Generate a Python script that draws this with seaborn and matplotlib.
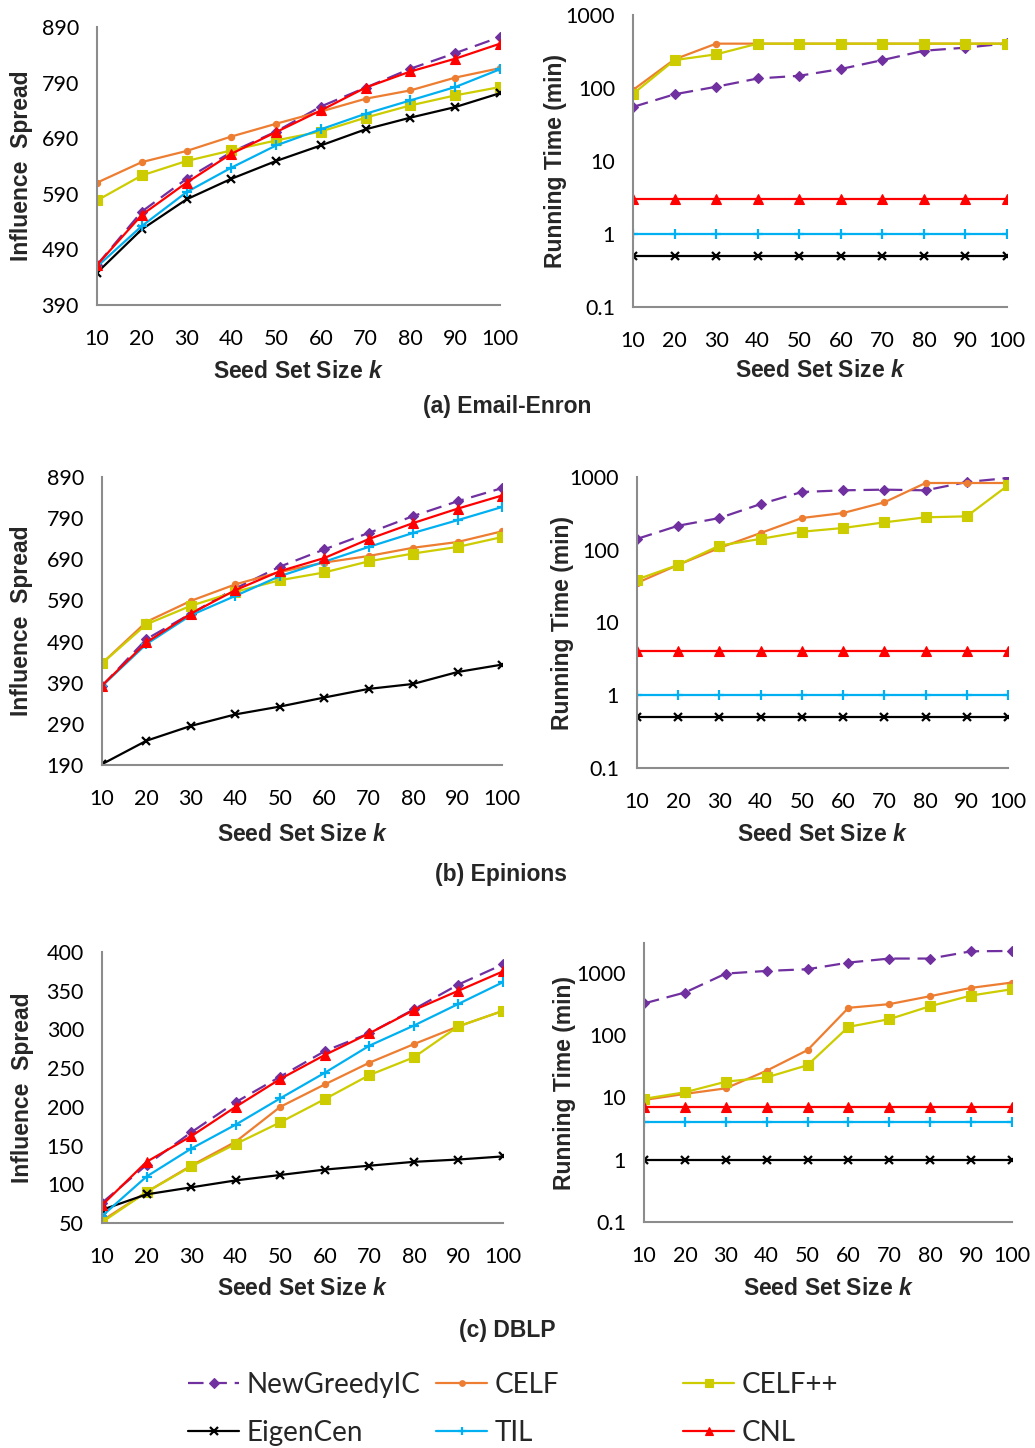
import matplotlib
matplotlib.use("Agg")
import matplotlib.pyplot as plt
from matplotlib.ticker import FixedLocator, FuncFormatter
from matplotlib.lines import Line2D
import seaborn as sns
import numpy as np
import pandas as pd

sns.set_style("white")
plt.rcParams['font.family'] = ['Lato', 'DejaVu Sans']
plt.rcParams['mathtext.fontset'] = 'custom'
plt.rcParams['mathtext.it'] = 'Liberation Sans:bold:italic'
plt.rcParams['mathtext.rm'] = 'Liberation Sans:bold'

# ---------------- data ----------------
k_values = [10, 20, 30, 40, 50, 60, 70, 80, 90, 100]
methods = ["NewGreedyIC", "CELF", "CELF++", "EigenCen", "TIL", "CNL"]

# (a) Email-Enron
enron_spread_newgreedy = [462, 558, 617, 665, 702, 747, 781, 815, 843, 872]
enron_spread_celf = [610, 647, 667, 693, 716, 738, 761, 776, 799, 816]
enron_spread_celfpp = [578, 623, 649, 668, 686, 702, 727, 749, 767, 782]
enron_spread_eigencen = [448, 526, 580, 617, 649, 677, 706, 727, 746, 771]
enron_spread_til = [459, 532, 593, 637, 677, 706, 734, 758, 782, 814]
enron_spread_cnl = [462, 552, 610, 662, 701, 740, 781, 810, 833, 860]

enron_time_newgreedy = [55, 82, 104, 135, 147, 182, 241, 324, 357, 408]
enron_time_celf = [94, 247, 405, 405, 405, 405, 405, 405, 405, 405]
enron_time_celfpp = [83, 241, 289, 405, 405, 405, 405, 405, 405, 405]
enron_time_eigencen = [0.5, 0.5, 0.5, 0.5, 0.5, 0.5, 0.5, 0.5, 0.5, 0.5]
enron_time_til = [1, 1, 1, 1, 1, 1, 1, 1, 1, 1]
enron_time_cnl = [3, 3, 3, 3, 3, 3, 3, 3, 3, 3]

# (b) Epinions
epin_spread_newgreedy = [382, 496, 558, 619, 672, 714, 754, 795, 831, 863]
epin_spread_celf = [437, 538, 589, 629, 659, 682, 698, 718, 732, 758]
epin_spread_celfpp = [437, 532, 577, 611, 639, 658, 685, 704, 720, 744]
epin_spread_eigencen = [192, 249, 285, 313, 332, 354, 375, 387, 416, 434]
epin_spread_til = [382, 484, 554, 601, 649, 684, 720, 754, 785, 817]
epin_spread_cnl = [383, 488, 558, 615, 661, 693, 739, 778, 813, 845]

epin_time_newgreedy = [141, 214, 273, 425, 622, 656, 670, 656, 853, 969]
epin_time_celf = [35, 62, 106, 170, 273, 320, 449, 827, 827, 827]
epin_time_celfpp = [39, 62, 114, 141, 177, 199, 238, 279, 288, 768]
epin_time_eigencen = [0.5, 0.5, 0.5, 0.5, 0.5, 0.5, 0.5, 0.5, 0.5, 0.5]
epin_time_til = [1, 1, 1, 1, 1, 1, 1, 1, 1, 1]
epin_time_cnl = [4, 4, 4, 4, 4, 4, 4, 4, 4, 4]

# (c) DBLP
dblp_spread_newgreedy = [76, 125, 167, 206, 239, 272, 295, 326, 358, 384]
dblp_spread_celf = [53, 90, 124, 155, 200, 229, 257, 281, 304, 324]
dblp_spread_celfpp = [51, 90, 123, 152, 180, 210, 241, 264, 304, 324]
dblp_spread_eigencen = [67, 87, 96, 105, 112, 119, 124, 129, 132, 136]
dblp_spread_til = [59, 110, 146, 177, 211, 244, 279, 305, 333, 361]
dblp_spread_cnl = [73, 129, 162, 200, 236, 267, 295, 325, 350, 375]

dblp_time_newgreedy = [323, 484, 975, 1076, 1145, 1464, 1699, 1699, 2223, 2250]
dblp_time_celf = [9.1, 11.4, 14, 26.9, 57.6, 275, 315, 423, 575, 700]
dblp_time_celfpp = [9.5, 12.1, 17.9, 21, 33, 136, 181, 292, 433, 547]
dblp_time_eigencen = [1, 1, 1, 1, 1, 1, 1, 1, 1, 1]
dblp_time_til = [4.1, 4.1, 4.1, 4.1, 4.1, 4.1, 4.1, 4.1, 4.1, 4.1]
dblp_time_cnl = [7, 7, 7, 7, 7, 7, 7, 7, 7, 7]

spread_ticks_ab = [390, 490, 590, 690, 790, 890]
spread_ticks_b = [190, 290, 390, 490, 590, 690, 790, 890]
spread_ticks_c = [50, 100, 150, 200, 250, 300, 350, 400]
time_ticks = [0.1, 1, 10, 100, 1000]

captions = ["(a) Email-Enron", "(b) Epinions", "(c) DBLP"]

# ---------------- styles ----------------
styles = {
    "NewGreedyIC": dict(color="#7030A0", marker="D", ms=5.5, dashes=(7, 3.5)),
    "CELF": dict(color="#ED7D31", marker="o", ms=4.5, dashes=None),
    "CELF++": dict(color="#CCCC00", marker="s", ms=7, dashes=None),
    "EigenCen": dict(color="#000000", marker="x", ms=6, dashes=None),
    "TIL": dict(color="#00B0F0", marker="+", ms=7, dashes=None),
    "CNL": dict(color="#FF0000", marker="^", ms=7, dashes=None),
}
BOLD_FONT = ["Liberation Sans", "DejaVu Sans"]
LABEL_SIZE = 16.5
TICK_SIZE = 15.5

W, H = 1035, 1448
fig = plt.figure(figsize=(W / 100, H / 100), dpi=100)


def make_ax(x0, x1, ytop, ybot):
    return fig.add_axes([x0 / W, 1 - ybot / H, (x1 - x0) / W, (ybot - ytop) / H])


def draw(ax, series):
    for name, vals in zip(methods, series):
        st = styles[name]
        df = pd.DataFrame({"k": k_values, "v": vals})
        sns.lineplot(data=df, x="k", y="v", ax=ax, color=st["color"], lw=1.6,
                     marker=st["marker"], markersize=st["ms"],
                     markeredgecolor=st["color"],
                     markeredgewidth=1.6 if st["marker"] in "x+" else 0.8,
                     legend=False)
        if st["dashes"] is not None:
            ax.lines[-1].set_dashes(st["dashes"])
    ax.set_xlim(10, 100)
    ax.set_xticks(k_values)
    for sp in ["top", "right"]:
        ax.spines[sp].set_visible(False)
    for sp in ["left", "bottom"]:
        ax.spines[sp].set_color("#8c8c8c")
        ax.spines[sp].set_linewidth(1.5)
    ax.tick_params(axis="both", which="major", direction="out", length=6, width=1.3,
                   color="#8c8c8c", labelsize=TICK_SIZE, labelcolor="black")
    ax.tick_params(axis="y", which="major", pad=7)
    ax.tick_params(axis="y", which="minor", length=0)
    ax.tick_params(axis="x", pad=11)
    ax.set_xlabel("Seed Set Size $k$", fontsize=LABEL_SIZE, fontweight="bold",
                  fontfamily=BOLD_FONT)
    ax.grid(False)
    ax.set_facecolor("white")


def set_log(ax, top):
    ax.set_yscale("log")
    ax.set_ylim(0.1, top)
    ax.yaxis.set_major_locator(FixedLocator(time_ticks))
    ax.yaxis.set_major_formatter(FuncFormatter(lambda v, p: f"{v:g}"))
    ax.yaxis.set_minor_locator(FixedLocator([]))
    ax.set_ylabel("Running Time (min)", fontsize=LABEL_SIZE, fontweight="bold",
                  fontfamily=BOLD_FONT)


def set_lin(ax, ticks):
    ax.set_ylim(ticks[0], ticks[-1])
    ax.set_yticks(ticks)
    ax.set_ylabel("Influence  Spread", fontsize=LABEL_SIZE, fontweight="bold",
                  fontfamily=BOLD_FONT)


def label_pos(ax, x0, x1, ytop, ybot, ylx, xly):
    # ylx: right edge (pixel x) of rotated y label; xly: top (pixel y) of x label
    ax.yaxis.set_label_coords((ylx - x0) / (x1 - x0), 0.5)
    ax.xaxis.set_label_coords(0.5, -(xly - ybot) / (ybot - ytop))


# (a)
box = (97, 500, 27, 305)
ax = make_ax(*box)
draw(ax, [enron_spread_newgreedy, enron_spread_celf, enron_spread_celfpp,
          enron_spread_eigencen, enron_spread_til, enron_spread_cnl])
set_lin(ax, spread_ticks_ab)
label_pos(ax, *box, 33, 360)

box = (633, 1007, 15, 307)
ax = make_ax(*box)
draw(ax, [enron_time_newgreedy, enron_time_celf, enron_time_celfpp,
          enron_time_eigencen, enron_time_til, enron_time_cnl])
set_log(ax, 1000)
label_pos(ax, *box, 567, 359)

# (b)
box = (102, 502, 477, 765)
ax = make_ax(*box)
draw(ax, [epin_spread_newgreedy, epin_spread_celf, epin_spread_celfpp,
          epin_spread_eigencen, epin_spread_til, epin_spread_cnl])
set_lin(ax, spread_ticks_b)
label_pos(ax, *box, 33, 823)

box = (637, 1008, 477, 768)
ax = make_ax(*box)
draw(ax, [epin_time_newgreedy, epin_time_celf, epin_time_celfpp,
          epin_time_eigencen, epin_time_til, epin_time_cnl])
set_log(ax, 1000)
label_pos(ax, *box, 574, 823)

# (c)
box = (102, 503, 952, 1223)
ax = make_ax(*box)
draw(ax, [dblp_spread_newgreedy, dblp_spread_celf, dblp_spread_celfpp,
          dblp_spread_eigencen, dblp_spread_til, dblp_spread_cnl])
set_lin(ax, spread_ticks_c)
label_pos(ax, *box, 34, 1277)

box = (644, 1012, 943, 1222)
ax = make_ax(*box)
draw(ax, [dblp_time_newgreedy, dblp_time_celf, dblp_time_celfpp,
          dblp_time_eigencen, dblp_time_til, dblp_time_cnl])
set_log(ax, 10 ** 3.48)
label_pos(ax, *box, 576, 1277)

# captions
for cap, (cx, cy) in zip(captions, [(507, 407), (501, 874), (507, 1330)]):
    fig.text(cx / W, 1 - cy / H, cap, ha="center", va="center", fontsize=LABEL_SIZE,
             fontweight="bold", fontfamily=BOLD_FONT)


# legend: three columns
def handle(name):
    st = styles[name]
    h = Line2D([], [], color=st["color"], lw=1.6, marker=st["marker"],
               markersize=st["ms"] * 0.9, markeredgecolor=st["color"],
               markeredgewidth=1.6 if st["marker"] in "x+" else 0.8)
    if st["dashes"] is not None:
        h.set_dashes(st["dashes"])
    return h


cols = [(["NewGreedyIC", "EigenCen"], 188), (["CELF", "TIL"], 436), (["CELF++", "CNL"], 683)]
for names, x in cols:
    fig.legend([handle(n) for n in names], names, loc="upper left",
               bbox_to_anchor=(x / W, 1 - 1372 / H), frameon=False,
               fontsize=20, handlelength=1.85, handletextpad=0.25,
               labelspacing=0.78, borderpad=0, borderaxespad=0)

fig.savefig("out.png", dpi=100, facecolor="white")
